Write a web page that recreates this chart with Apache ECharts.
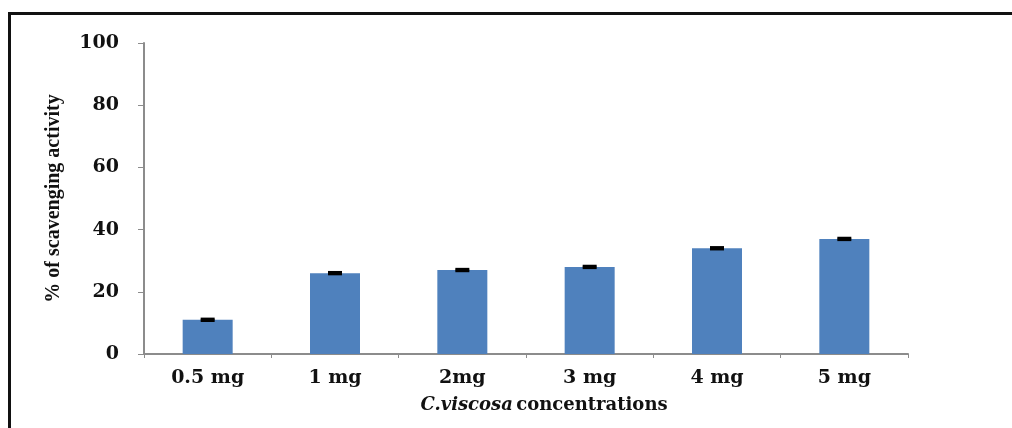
<!DOCTYPE html>
<html>
<head>
<meta charset="utf-8">
<script src="https://cdn.jsdelivr.net/npm/echarts@6/dist/echarts.min.js"></script>
<style>html,body{margin:0;padding:0;background:#fff;}#c{width:1012px;height:428px;}</style>
</head>
<body>
<div id="c"></div>
<script>
const categories = ['0.5 mg', '1 mg', '2mg', '3 mg', '4 mg', '5 mg'];
const values = [11, 26, 27, 28, 34, 37];
const errors = [0.3, 0.3, 0.3, 0.3, 0.3, 0.3];
const yTicks = [0, 20, 40, 60, 80, 100];

const chart = echarts.init(document.getElementById('c'));
const font = 'DejaVu Serif';
chart.setOption({
  animation: false,
  backgroundColor: '#fff',
  grid: {left: 144, right: 104, top: 43, bottom: 74},
  graphic: [{
    type: 'rect', left: 7, top: 11,
    shape: {width: 1200, height: 600},
    style: {fill: 'none', stroke: '#111', lineWidth: 3}
  }],
  xAxis: {
    type: 'category',
    data: categories,
    axisLine: {lineStyle: {color: '#8c8c8c', width: 2}},
    axisTick: {show: true, length: 4, lineStyle: {color: '#8c8c8c', width: 1}},
    axisLabel: {color: '#111', fontFamily: font, fontWeight: 'bold', fontSize: 19, margin: 15},
    name: '{i|C.viscosa} {b|concentrations}',
    nameLocation: 'middle',
    nameGap: 42,
    nameTextStyle: {
      padding: [0, 0, 0, 36],
      rich: {
        i: {fontFamily: font, fontStyle: 'italic', fontWeight: 'bold', fontSize: 18, color: '#111'},
        b: {fontFamily: font, fontWeight: 'bold', fontSize: 18, color: '#111'}
      }
    }
  },
  yAxis: {
    type: 'value',
    min: 0, max: 100, interval: 20,
    splitLine: {show: false},
    axisLine: {show: true, lineStyle: {color: '#8c8c8c', width: 2}},
    axisTick: {show: true, length: 6, lineStyle: {color: '#8c8c8c', width: 1}},
    axisLabel: {
      color: '#111', fontFamily: font, fontWeight: 'bold', fontSize: 19, margin: 25,
      formatter: v => yTicks.includes(v) ? String(v) : ''
    },
    name: '% of scavenging activity',
    nameLocation: 'middle',
    nameRotate: 90,
    nameGap: 80,
    nameTextStyle: {color: '#111', fontFamily: 'Liberation Serif', fontWeight: 'bold', fontSize: 20}
  },
  series: [{
    type: 'bar',
    data: values,
    barWidth: 50,
    itemStyle: {color: '#4f81bd'}
  }, {
    type: 'custom',
    z: 10,
    data: values.map((v, i) => [i, v - errors[i], v + errors[i]]),
    renderItem: function (params, api) {
      const x = api.coord([api.value(0), 0])[0];
      const lo = api.coord([api.value(0), api.value(1)])[1];
      const hi = api.coord([api.value(0), api.value(2)])[1];
      const hw = 7;
      const st = {stroke: '#000', lineWidth: 2.5};
      return {type: 'group', children: [
        {type: 'line', shape: {x1: x, y1: lo, x2: x, y2: hi}, style: st},
        {type: 'line', shape: {x1: x - hw, y1: lo, x2: x + hw, y2: lo}, style: st},
        {type: 'line', shape: {x1: x - hw, y1: hi, x2: x + hw, y2: hi}, style: st}
      ]};
    }
  }]
});
</script>
</body>
</html>
